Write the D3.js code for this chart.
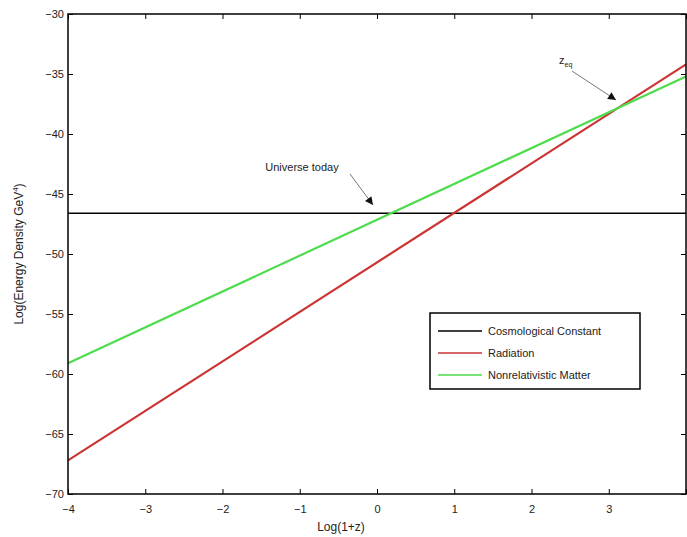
<!DOCTYPE html>
<html>
<head>
<meta charset="utf-8">
<script src="https://cdn.jsdelivr.net/npm/d3@7"></script>
<style>
  body { margin: 0; background: #fff; }
  svg { font-family: "Liberation Sans", Arial, sans-serif; }
  .tick text { font-size: 11px; fill: #222; }
</style>
</head>
<body>
<svg id="chart"></svg>
<script>
// data
const logZ = [-4, 4];
const cosmological = [-46.6, -46.6];
const radiation = [-67.2, -34.2];
const matter = [-59.1, -35.2];

const seriesNames = ['Cosmological Constant', 'Radiation', 'Nonrelativistic Matter'];
const seriesColors = ['#000000', '#cc3333', '#4cdc4c'];
const seriesValues = [cosmological, radiation, matter];

const xTicks = [-4, -3, -2, -1, 0, 1, 2, 3, 4];
const yTicks = [-70, -65, -60, -55, -50, -45, -40, -35, -30];

const width = 687, height = 537;
const margin = {top: 14, right: 1, bottom: 43, left: 68};
const w = width - margin.left - margin.right;
const h = height - margin.top - margin.bottom;

const svg = d3.select('#chart')
  .attr('width', width)
  .attr('height', height);

const chart = svg.append('g')
  .attr('transform', `translate(${margin.left},${margin.top})`);

const x = d3.scaleLinear().domain([-4, 4]).range([0, w]);
const y = d3.scaleLinear().domain([-70, -30]).range([h, 0]);

// arrow marker
svg.append('defs').append('marker')
  .attr('id', 'arrow')
  .attr('viewBox', '0 0 10 10')
  .attr('refX', 10).attr('refY', 5)
  .attr('markerWidth', 10).attr('markerHeight', 8)
  .attr('markerUnits', 'userSpaceOnUse')
  .attr('orient', 'auto')
  .append('path')
  .attr('d', 'M0,0 L10,5 L0,10 z')
  .attr('fill', '#111');

// lines
const line = d3.line()
  .x((d, i) => x(logZ[i]))
  .y(d => y(d));

seriesValues.forEach((vals, i) => {
  chart.append('path')
    .datum(vals)
    .attr('fill', 'none')
    .attr('stroke', seriesColors[i])
    .attr('stroke-width', i === 0 ? 1.6 : 2.2)
    .attr('d', line);
});

// axes, MATLAB style box with inward ticks
const tickLen = 5;
chart.append('g')
  .attr('transform', `translate(0,${h})`)
  .call(d3.axisBottom(x).tickValues(xTicks).tickSize(-tickLen).tickPadding(11).tickFormat(d3.format('d')))
  .call(g => g.select('.domain').remove())
  .call(g => g.selectAll('.tick text').filter(d => d === 4).remove());

chart.append('g')
  .call(d3.axisTop(x).tickValues(xTicks).tickSize(-tickLen).tickFormat(''))
  .call(g => g.select('.domain').remove());

chart.append('g')
  .call(d3.axisLeft(y).tickValues(yTicks).tickSize(-tickLen).tickPadding(4).tickFormat(d3.format('d')))
  .call(g => g.select('.domain').remove());

chart.append('g')
  .attr('transform', `translate(${w},0)`)
  .call(d3.axisRight(y).tickValues(yTicks).tickSize(-tickLen).tickFormat(''))
  .call(g => g.select('.domain').remove());

chart.selectAll('.tick line').attr('stroke', '#000');

chart.append('rect')
  .attr('width', w).attr('height', h)
  .attr('fill', 'none')
  .attr('stroke', '#000')
  .attr('stroke-width', 1.5);

// axis titles
svg.append('text')
  .attr('x', margin.left + w / 2 - 36)
  .attr('y', 531)
  .attr('text-anchor', 'middle')
  .style('font-size', '12px')
  .style('fill', '#222')
  .text('Log(1+z)');

const yTitle = svg.append('text')
  .attr('transform', `translate(23,${margin.top + h / 2}) rotate(-90)`)
  .attr('text-anchor', 'middle')
  .style('font-size', '12px')
  .style('fill', '#222');
yTitle.append('tspan').text('Log(Energy Density GeV');
yTitle.append('tspan').attr('dy', -5).style('font-size', '8px').text('4');
yTitle.append('tspan').attr('dy', 5).text(')');

// annotations
svg.append('text')
  .attr('x', 302).attr('y', 171)
  .attr('text-anchor', 'middle')
  .style('font-size', '11px')
  .style('fill', '#222')
  .text('Universe today');
svg.append('line')
  .attr('x1', 350).attr('y1', 174)
  .attr('x2', 373).attr('y2', 205)
  .attr('stroke', '#777').attr('stroke-width', 1)
  .attr('marker-end', 'url(#arrow)');

const zeq = svg.append('text')
  .attr('x', 559).attr('y', 64)
  .style('font-size', '11px')
  .style('fill', '#222');
zeq.append('tspan').text('z');
zeq.append('tspan').attr('dy', 3).style('font-size', '7px').text('eq');
svg.append('line')
  .attr('x1', 572).attr('y1', 71)
  .attr('x2', 616).attr('y2', 100)
  .attr('stroke', '#777').attr('stroke-width', 1)
  .attr('marker-end', 'url(#arrow)');

// legend
const legend = svg.append('g').attr('transform', 'translate(430,313)');
legend.append('rect')
  .attr('width', 210).attr('height', 76)
  .attr('fill', '#fff')
  .attr('stroke', '#000')
  .attr('stroke-width', 1.5);
seriesNames.forEach((name, i) => {
  const ry = 18 + i * 22;
  legend.append('line')
    .attr('x1', 8).attr('x2', 52)
    .attr('y1', ry).attr('y2', ry)
    .attr('stroke', seriesColors[i])
    .attr('stroke-width', 1.5);
  legend.append('text')
    .attr('x', 58).attr('y', ry + 4)
    .style('font-size', '11px')
    .style('fill', '#222')
    .text(name);
});
</script>
</body>
</html>
